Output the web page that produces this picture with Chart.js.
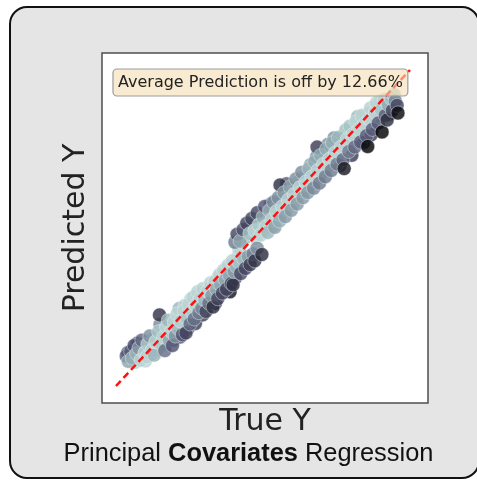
<!DOCTYPE html>
<html>
<head>
<meta charset="utf-8">
<script src="https://cdn.jsdelivr.net/npm/chart.js@4.4.1/dist/chart.umd.min.js"></script>
<style>
  html, body { margin: 0; padding: 0; background: #fff; }
  #wrap { position: relative; width: 477px; height: 480px; overflow: hidden; background: #fff; }
  #frame { position: absolute; left: 9px; top: 6px; width: 471px; height: 473px; box-sizing: border-box;
           border: 2.5px solid #111; border-radius: 18px; background: #e5e5e5; }
  #chart { position: absolute; left: 0; top: 0; }
  #caption { position: absolute; left: 10px; top: 440px; width: 477px; text-align: center;
             font: 25.4px/25px 'Liberation Sans', Arial, sans-serif; color: #111; }
</style>
</head>
<body>
<div id="wrap">
  <div id="frame"></div>
  <canvas id="chart" width="477" height="480"></canvas>
  <div id="caption">Principal <b>Covariates</b> Regression</div>
</div>
<script>
// true vs predicted values (back layer first)
const trueY = [
  0.40, 0.65, 0.72, 0.95, 1.00, 1.18, 1.25, 1.40, 1.50, 1.58, 1.70, 1.75, 1.95, 2.05, 2.15, 2.18,
  2.30, 2.35, 2.45, 2.55, 2.60, 2.70, 2.75, 2.90, 2.95, 3.05, 3.10, 3.20, 3.28, 3.38, 3.45, 3.50,
  3.58, 3.68, 3.75, 3.80, 3.88, 4.05, 4.15, 4.30, 4.45, 4.60,
  4.18, 4.40, 4.50, 4.68, 4.75, 4.95, 5.05, 5.12, 5.25, 5.32, 5.45, 5.50, 5.62, 5.68, 5.80, 5.82,
  5.98, 6.02, 6.20, 6.22, 6.40, 6.42, 6.60, 6.62, 6.80, 6.82, 7.00, 7.02, 7.20, 7.22, 7.40, 7.42,
  7.58, 7.62, 7.80, 7.82, 8.00, 8.02, 8.20, 8.22, 8.40, 8.42, 8.58, 8.68, 8.76, 8.96, 9.00, 9.10,
  9.30, 9.42, 9.32,
  0.35, 0.42, 0.50, 0.55, 0.62, 0.70, 0.78, 0.85, 0.88, 0.98, 1.05, 1.08, 1.15, 1.22, 1.30, 1.35,
  1.45, 1.48, 1.55, 1.62, 1.66, 1.72, 1.78, 1.82, 1.88, 1.92, 1.98, 2.02, 2.08, 2.12, 2.20, 2.26,
  2.32, 2.38, 2.42, 2.48, 2.52, 2.58, 2.62, 2.66, 2.72, 2.78, 2.82, 2.86, 2.92, 2.96, 3.02, 3.06,
  3.12, 3.16, 3.22, 3.26, 3.30, 3.36, 3.42, 3.46, 3.52, 3.56, 3.62, 3.66, 3.72, 3.76, 3.82, 3.86,
  3.92, 3.98, 3.96, 4.02, 4.10, 4.18, 4.24, 4.34, 4.40, 4.50, 4.56, 4.66, 4.72, 4.80, 4.96,
  4.05, 4.12, 4.22, 4.32, 4.45, 4.55, 4.62, 4.72, 4.80, 4.86, 4.92, 5.00, 5.06, 5.10, 5.16, 5.22,
  5.30, 5.36, 5.40, 5.46, 5.52, 5.56, 5.58, 5.66, 5.72, 5.76, 5.86, 5.92, 5.96, 6.06, 6.12, 6.16,
  6.26, 6.32, 6.36, 6.46, 6.52, 6.56, 6.66, 6.72, 6.76, 6.84, 6.86, 6.92, 6.96, 7.06, 7.12, 7.16,
  7.26, 7.32, 7.36, 7.46, 7.52, 7.56, 7.66, 7.72, 7.76, 7.86, 7.92, 7.96, 8.06, 8.12, 8.16, 8.26,
  8.32, 8.36, 8.46, 8.52, 8.56, 8.62, 8.66, 8.72, 8.82, 8.86, 8.92, 9.02, 9.05, 9.12, 9.16, 9.22,
  9.26, 9.36, 9.40, 9.46, 9.50, 9.56, 9.59
];
const predY = [
  1.05, 0.75, 1.35, 1.25, 0.80, 1.00, 1.48, 1.15, 1.95, 1.75, 1.35, 1.60, 1.45, 1.95, 2.45, 1.55,
  1.88, 2.55, 1.82, 2.75, 2.20, 1.98, 2.72, 2.95, 2.25, 2.95, 2.50, 2.72, 3.10, 2.62, 3.40, 2.95,
  3.45, 3.10, 3.70, 3.30, 2.98, 3.40, 4.10, 3.82, 3.95, 4.05,
  4.35, 4.70, 5.00, 5.10, 4.70, 5.20, 4.95, 5.40, 5.75, 5.05, 5.30, 5.70, 5.45, 5.95, 6.40, 5.60,
  6.15, 5.78, 6.45, 6.02, 6.62, 6.20, 6.40, 7.00, 6.55, 7.25, 6.75, 7.40, 6.95, 7.65, 7.15, 7.85,
  7.30, 6.98, 7.55, 8.10, 7.70, 7.30, 7.90, 8.52, 8.05, 7.70, 8.62, 7.95, 8.45, 8.55, 9.00, 8.80,
  8.60, 8.95, 9.00,
  0.95, 0.78, 1.10, 0.88, 1.28, 1.02, 1.20, 0.82, 1.45, 1.05, 0.92, 1.32, 1.58, 1.12, 0.98, 1.40,
  1.72, 2.25, 1.30, 1.55, 1.12, 1.86, 2.08, 1.45, 1.72, 1.28, 2.02, 1.58, 2.28, 1.82, 2.05, 1.62,
  2.38, 1.68, 2.15, 2.58, 1.96, 2.36, 2.80, 2.12, 2.56, 2.98, 2.32, 2.76, 2.46, 3.08, 2.72, 2.36,
  3.00, 2.62, 3.26, 2.86, 2.50, 3.30, 3.06, 2.76, 3.52, 3.20, 2.94, 3.66, 3.36, 3.06, 3.82, 3.50,
  3.24, 3.20, 3.96, 3.62, 3.78, 3.92, 3.56, 4.04, 3.72, 4.10, 3.84, 4.18, 3.96, 4.36, 4.16,
  4.55, 4.80, 4.58, 4.95, 5.15, 4.82, 5.30, 4.92, 5.48, 5.10, 4.78, 5.35, 5.68, 5.05, 4.86, 5.55,
  5.26, 5.82, 5.02, 5.52, 5.96, 5.22, 6.36, 5.68, 6.12, 5.36, 5.88, 6.30, 5.56, 6.06, 6.55, 5.76,
  6.28, 6.76, 5.96, 6.46, 6.12, 6.88, 6.62, 6.26, 7.10, 7.56, 6.82, 6.42, 7.30, 7.02, 6.62, 7.50,
  7.18, 6.82, 7.70, 7.38, 7.02, 7.86, 7.56, 7.16, 6.88, 7.80, 7.42, 8.22, 7.96, 7.56, 8.36, 8.12,
  7.72, 8.56, 8.28, 7.92, 7.58, 8.46, 8.80, 8.12, 8.66, 8.96, 8.32, 8.76, 8.04, 9.06, 8.56, 8.42,
  8.90, 9.10, 8.72, 9.22, 9.02, 8.88, 8.64
];
// perfect-prediction reference line
const lineX = [0, 10];
const lineY = [0, 10];
const annotationText = 'Average Prediction is off by 12.66%';

// matplotlib "bone" colormap
function bone(t, alpha) {
  const r = t < 0.746032 ? t / 0.746032 * 0.652778
          : 0.652778 + (t - 0.746032) / 0.253968 * 0.347222;
  const g = t < 0.365079 ? t / 0.365079 * 0.319444
          : t < 0.746032 ? 0.319444 + (t - 0.365079) / 0.380953 * 0.458334
          : 0.777778 + (t - 0.746032) / 0.253968 * 0.222222;
  const b = t < 0.365079 ? t / 0.365079 * 0.444444
          : 0.444444 + (t - 0.365079) / 0.634921 * 0.555556;
  return `rgba(${Math.round(r * 255)},${Math.round(g * 255)},${Math.round(b * 255)},${alpha})`;
}

const points = trueY.map((v, i) => ({ x: v, y: predY[i] }));
// colour by absolute error: pale close to the line, darkening beyond 0.2
const pointColors = trueY.map((v, i) => {
  const err = Math.abs(predY[i] - v);
  return bone(Math.max(0.02, Math.min(0.8, 0.8 - (err - 0.2))), 0.82);
});

const plotFrame = {
  id: 'plotFrame',
  beforeDraw(chart) {
    const { ctx, chartArea: a } = chart;
    ctx.save();
    ctx.fillStyle = '#fff';
    ctx.fillRect(a.left, a.top, a.right - a.left, a.bottom - a.top);
    ctx.restore();
  },
  afterDraw(chart) {
    const { ctx, chartArea: a } = chart;
    ctx.save();
    ctx.font = '16px "DejaVu Sans"';
    const tw = ctx.measureText(annotationText).width;
    const bx = a.left + 11, by = a.top + 16, bw = tw + 10, bh = 27;
    ctx.beginPath();
    ctx.roundRect(bx, by, bw, bh, 4);
    ctx.fillStyle = 'rgba(245,222,179,0.6)';
    ctx.fill();
    ctx.strokeStyle = '#9b9b9b';
    ctx.lineWidth = 1.2;
    ctx.stroke();
    ctx.fillStyle = '#222';
    ctx.textBaseline = 'middle';
    ctx.fillText(annotationText, bx + 5, by + bh / 2 + 0.5);

    ctx.strokeStyle = '#4d4d4d';
    ctx.lineWidth = 1.5;
    ctx.strokeRect(a.left, a.top, a.right - a.left, a.bottom - a.top);
    ctx.restore();
  }
};

new Chart(document.getElementById('chart'), {
  type: 'scatter',
  data: {
    datasets: [
      {
        type: 'line',
        data: lineX.map((v, i) => ({ x: v, y: lineY[i] })),
        borderColor: '#ff1010',
        borderWidth: 2.5,
        borderDash: [7, 4],
        pointRadius: 0,
        fill: false
      },
      {
        data: points,
        backgroundColor: pointColors,
        borderColor: 'rgba(235,245,245,0.55)',
        borderWidth: 0.8,
        pointRadius: 7
      }
    ]
  },
  options: {
    responsive: false,
    animation: false,
    layout: { padding: { top: 53, right: 49, bottom: 0, left: 0 } },
    plugins: { legend: { display: false }, tooltip: { enabled: false } },
    scales: {
      x: {
        type: 'linear', min: -0.476, max: 10.612,
        ticks: { display: false },
        grid: { display: false, drawTicks: false },
        border: { display: false },
        title: {
          display: true, text: 'True Y', color: '#222',
          font: { family: "'DejaVu Sans'", size: 30 },
          padding: { top: 0, bottom: 40 }
        },
        afterFit(s) { s.height = 77; }
      },
      y: {
        type: 'linear', min: -0.538, max: 10.538,
        ticks: { display: false },
        grid: { display: false, drawTicks: false },
        border: { display: false },
        title: {
          display: true, text: 'Predicted Y', color: '#222',
          font: { family: "'DejaVu Sans'", size: 30 },
          padding: { top: 58, bottom: 0 }
        },
        afterFit(s) { s.width = 102; }
      }
    }
  },
  plugins: [plotFrame]
});
</script>
</body>
</html>
